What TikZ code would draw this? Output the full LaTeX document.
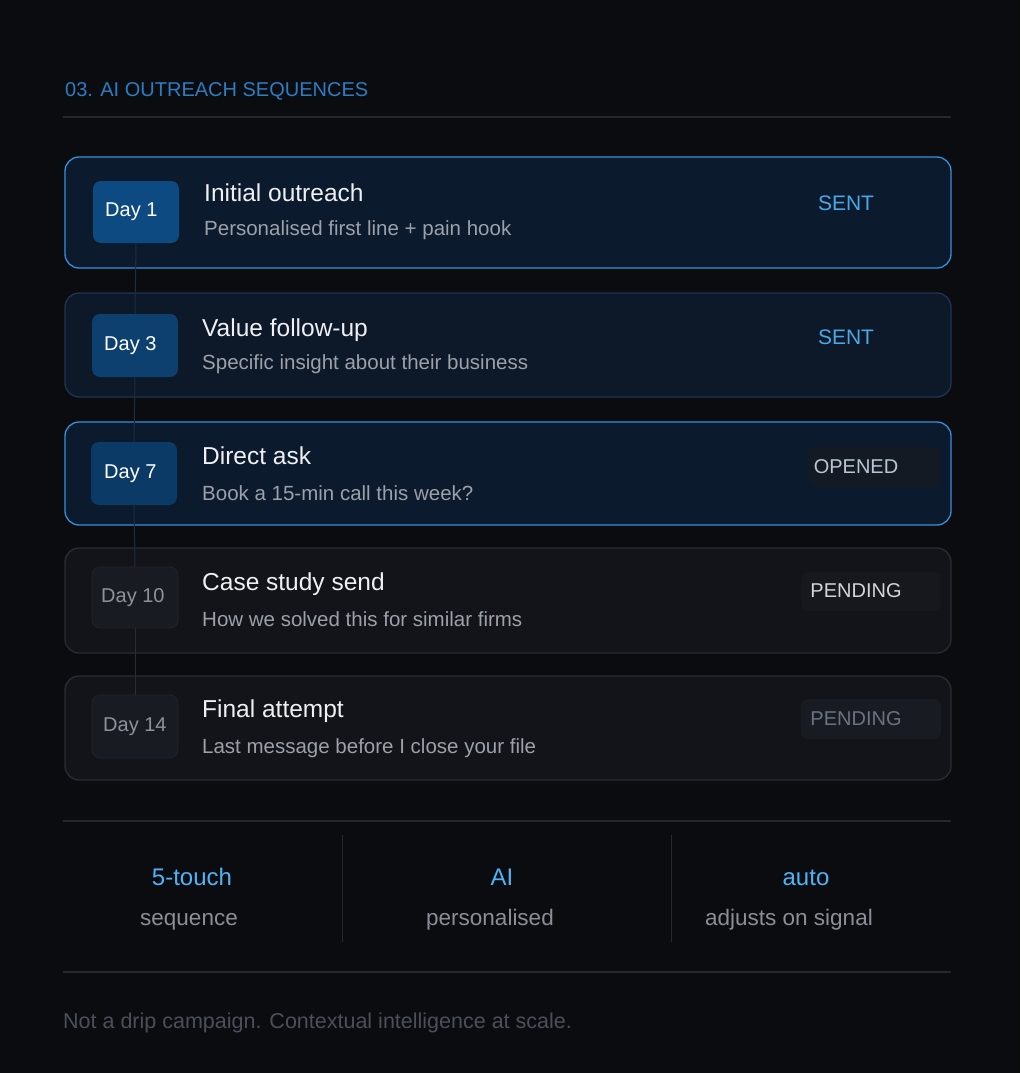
\documentclass[tikz,border=0pt]{standalone}
\usepackage{fontspec}
\setmainfont{Liberation Sans}
\definecolor{bg}{HTML}{0B0C10}
\definecolor{rulec}{HTML}{25282E}
\definecolor{hdr}{HTML}{2C7DC2}
\definecolor{bluebd}{HTML}{3A8FDA}
\definecolor{dimbd}{HTML}{1E3552}
\definecolor{greybd}{HTML}{292C33}
\definecolor{bluefill}{HTML}{0C1A2D}
\definecolor{bluefillb}{HTML}{0D1829}
\definecolor{greyfill}{HTML}{121419}
\definecolor{daya}{HTML}{0E4A82}
\definecolor{dayb}{HTML}{0D406F}
\definecolor{dayc}{HTML}{0C3A66}
\definecolor{dayg}{HTML}{181B22}
\definecolor{daygbd}{HTML}{23262D}
\definecolor{titlec}{HTML}{EEF0F3}
\definecolor{subc}{HTML}{9CA1A9}
\definecolor{dimtxt}{HTML}{8E939B}
\definecolor{sentc}{HTML}{4BA7E6}
\definecolor{openc}{HTML}{B9C6D2}
\definecolor{pendc}{HTML}{D2D4D8}
\definecolor{pend2c}{HTML}{6C7280}
\definecolor{pillo}{HTML}{141A24}
\definecolor{pillp}{HTML}{16181D}
\definecolor{pillq}{HTML}{181B22}
\definecolor{statc}{HTML}{4FB3F5}
\definecolor{statsub}{HTML}{8A8F97}
\definecolor{footc}{HTML}{4B4F59}
\definecolor{tline}{HTML}{1C2C42}
\tikzset{
  card/.style={rounded corners=14pt, line width=1.3pt, inner sep=0pt, outer sep=0pt},
  daybox/.style={rounded corners=8pt, inner sep=0pt, outer sep=0pt},
  daytxt/.style={anchor=west, inner sep=0pt, text=white, font=\fontsize{20}{24}\selectfont},
  pill/.style={rounded corners=7pt, inner sep=0pt, outer sep=0pt},
  stxt/.style={inner sep=0pt, font=\fontsize{20}{24}\selectfont},
  ttl/.style={anchor=base west, inner sep=0pt, text=titlec, font=\fontsize{24.5}{28}\selectfont},
  sub/.style={anchor=base west, inner sep=0pt, text=subc, font=\fontsize{20.5}{24}\selectfont},
  stat/.style={anchor=base, inner sep=0pt, text=statc, font=\fontsize{24}{28}\selectfont},
  statl/.style={anchor=base, inner sep=0pt, text=statsub, font=\fontsize{22.5}{26}\selectfont},
  hrule/.style={draw=rulec, line width=1.2pt},
  vrule/.style={draw=rulec, line width=1pt},
  tl/.style={draw=tline, line width=1pt}
}
\begin{document}
\begin{tikzpicture}[x=1pt,y=-1pt]
\useasboundingbox (0,0) rectangle (1020,1073);
\fill[bg] (0,0) rectangle (1020,1073);

% header
\node[anchor=base west, inner sep=0pt, text=hdr, font=\fontsize{20}{24}\selectfont] (hdr) at (65,96) {03. AI OUTREACH SEQUENCES};
\coordinate (r1a) at (63,117); \coordinate (r1b) at (951,117);
\draw[hrule] (r1a) -- (r1b);

% cards
\node[card, draw=bluebd, fill=bluefill, minimum width=886pt, minimum height=111pt] (c1) at (508,212.5) {};
\node[card, draw=dimbd, fill=bluefillb, minimum width=886pt, minimum height=104pt] (c2) at (508,345) {};
\node[card, draw=bluebd, fill=bluefill, minimum width=886pt, minimum height=103pt] (c3) at (508,473.5) {};
\node[card, draw=greybd, fill=greyfill, minimum width=886pt, minimum height=105pt] (c4) at (508,600.5) {};
\node[card, draw=greybd, fill=greyfill, minimum width=886pt, minimum height=104pt] (c5) at (508,728) {};

% day boxes
\node[daybox, fill=daya, minimum width=86pt, minimum height=62pt] (d1) at (136,212) {};
\node[daybox, fill=dayb, minimum width=86pt, minimum height=63pt] (d2) at (135,345.5) {};
\node[daybox, fill=dayc, minimum width=86pt, minimum height=63pt] (d3) at (134,473.5) {};
\node[daybox, fill=dayg, draw=daygbd, line width=0.6pt, minimum width=86pt, minimum height=61pt] (d4) at (135,597.5) {};
\node[daybox, fill=dayg, draw=daygbd, line width=0.6pt, minimum width=86pt, minimum height=63pt] (d5) at (135,726.5) {};
\node[daytxt] (l1) at ([xshift=12pt]d1.west) {Day 1};
\node[daytxt] (l2) at ([xshift=12pt]d2.west) {Day 3};
\node[daytxt] (l3) at ([xshift=13pt]d3.west) {Day 7};
\node[daytxt, text=dimtxt] (l4) at ([xshift=9pt]d4.west) {Day 10};
\node[daytxt, text=dimtxt] (l5) at ([xshift=11pt]d5.west) {Day 14};

% timeline
\draw[tl] (d1.south) -- (d2.north);
\draw[tl] (d2.south) -- (d3.north);
\draw[tl] (d3.south) -- (d4.north);
\draw[tl, draw=greybd] (d4.south) -- (d5.north);

% titles
\node[ttl] (t1) at (204,201) {Initial outreach};
\node[sub] (s1) at (204,235) {Personalised first line + pain hook};
\node[ttl] (t2) at (202,336) {Value follow-up};
\node[sub] (s2) at (202,369) {Specific insight about their business};
\node[ttl] (t3) at (202,464) {Direct ask};
\node[sub] (s3) at (202,500) {Book a 15-min call this week?};
\node[ttl] (t4) at (202,590) {Case study send};
\node[sub] (s4) at (202,626) {How we solved this for similar firms};
\node[ttl] (t5) at (202,717) {Final attempt};
\node[sub] (s5) at (202,753) {Last message before I close your file};

% statuses
\node[stxt, text=sentc, font=\fontsize{21}{25}\selectfont] (st1) at (846,203) {SENT};
\node[stxt, text=sentc, font=\fontsize{21}{25}\selectfont] (st2) at (846,337) {SENT};
\node[pill, fill=pillo, minimum width=132pt, minimum height=40pt] (st3) at (874,467) {};
\node[stxt, text=openc] (st3t) at (856,467) {OPENED};
\node[pill, fill=pillp, minimum width=140pt, minimum height=39pt] (st4) at (871,591.5) {};
\node[stxt, text=pendc] (st4t) at (856,591) {PENDING};
\node[pill, fill=pillq, minimum width=140pt, minimum height=40pt] (st5) at (871,719) {};
\node[stxt, text=pend2c] (st5t) at (856,719) {PENDING};

% stats
\coordinate (r2a) at (63,821); \coordinate (r2b) at (951,821);
\draw[hrule] (r2a) -- (r2b);
\coordinate (v1a) at (342,835); \coordinate (v1b) at (342,942);
\coordinate (v2a) at (671,835); \coordinate (v2b) at (671,942);
\draw[vrule] (v1a) -- (v1b);
\draw[vrule] (v2a) -- (v2b);
\node[stat] (a1) at (192,885) {5-touch};
\node[statl] (b1) at (189,925) {sequence};
\node[stat] (a2) at (502,885) {AI};
\node[statl] (b2) at (490,925) {personalised};
\node[stat] (a3) at (806,885) {auto};
\node[statl] (b3) at (789,925) {adjusts on signal};
\coordinate (r3a) at (63,972); \coordinate (r3b) at (951,972);
\draw[hrule] (r3a) -- (r3b);

% footer
\node[anchor=base west, inner sep=0pt, text=footc, font=\fontsize{21.5}{25}\selectfont] (ft) at (63,1028) {Not a drip campaign. Contextual intelligence at scale.};
\end{tikzpicture}
\end{document}
